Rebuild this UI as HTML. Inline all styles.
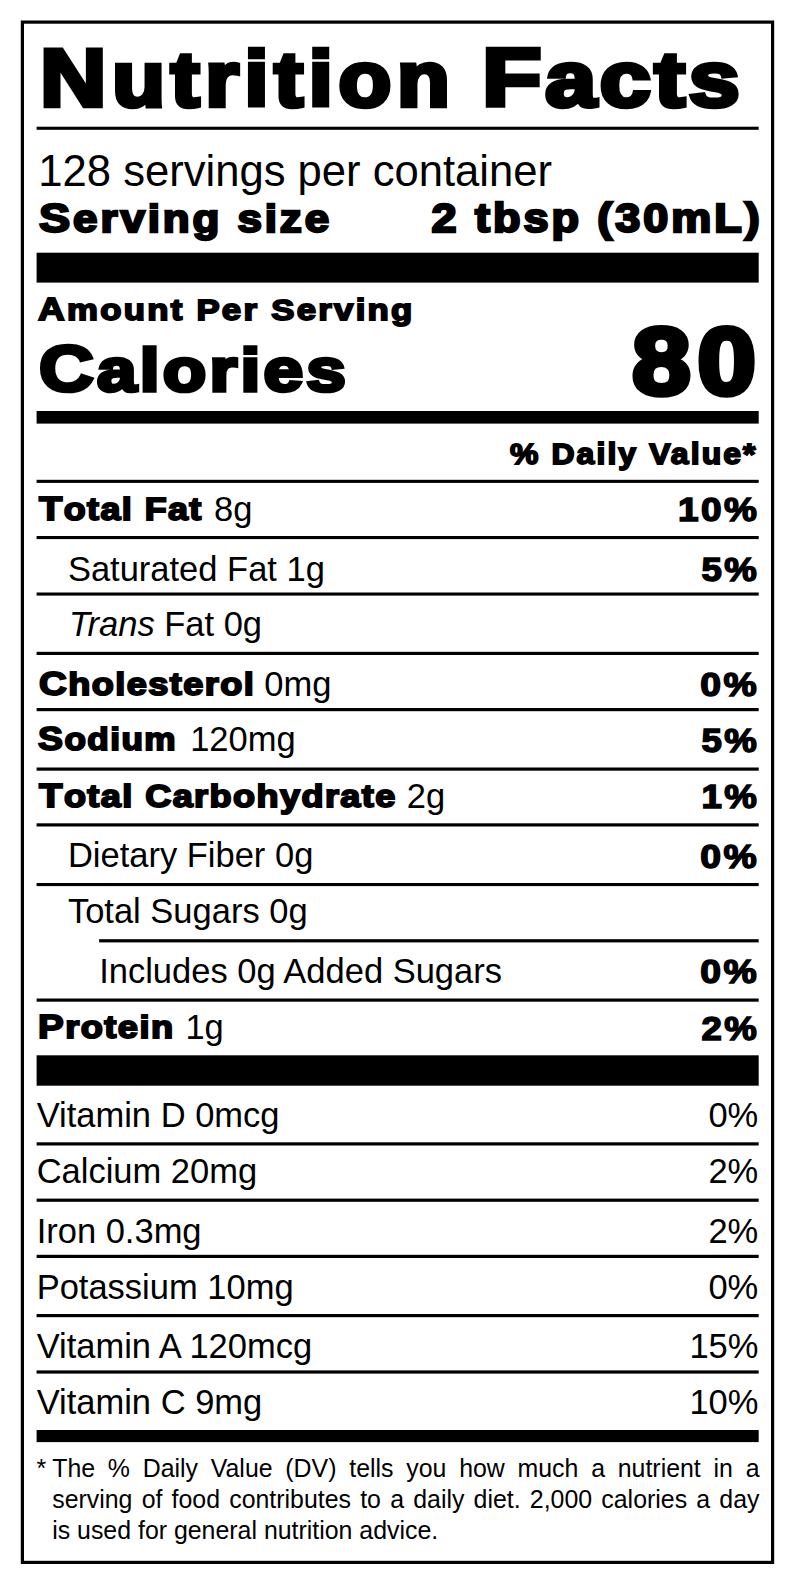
<!DOCTYPE html><html lang="en"><head><meta charset="utf-8"><title>Nutrition Facts</title><style>

html,body{margin:0;padding:0;background:#fff;}
body{width:796px;height:1585px;position:relative;overflow:hidden;font-family:"Liberation Sans",sans-serif;color:#000;}
.lines{position:absolute;left:0;top:0;display:block;}
.t{position:absolute;white-space:nowrap;line-height:1;margin:0;}
.l{transform-origin:0 0;}
.r{transform-origin:100% 0;}
.h{font-weight:bold;-webkit-text-stroke:0.06em #000;letter-spacing:0.066em;}
.n{font-weight:normal;}
.fl::first-letter{font-size:1.065em;}
.ttl{margin:0;padding:0;font-size:inherit;font-weight:inherit;line-height:0;height:0;}
.fn{position:absolute;font-size:24.9px;line-height:1;white-space:nowrap;}
.fj{text-align:justify;text-align-last:justify;}

</style></head><body>
<main>
<svg class="lines" width="796" height="1585" viewBox="0 0 796 1585" aria-hidden="true">
<rect x="22.40" y="22.10" width="750.20" height="1540.30" fill="none" stroke="#000" stroke-width="3.2"/>
<rect x="36.6" y="126.7" width="722.10" height="3.10" fill="#000"/>
<rect x="36.6" y="252.7" width="722.10" height="29.90" fill="#000"/>
<rect x="36.6" y="411.0" width="722.10" height="12.60" fill="#000"/>
<rect x="36.6" y="479.8" width="722.10" height="3.10" fill="#000"/>
<rect x="36.6" y="536.0" width="722.10" height="3.10" fill="#000"/>
<rect x="36.6" y="592.5" width="722.10" height="3.10" fill="#000"/>
<rect x="36.6" y="651.8" width="722.10" height="3.20" fill="#000"/>
<rect x="36.6" y="708.0" width="722.10" height="3.20" fill="#000"/>
<rect x="36.6" y="767.5" width="722.10" height="3.20" fill="#000"/>
<rect x="36.6" y="823.3" width="722.10" height="3.20" fill="#000"/>
<rect x="36.6" y="883.0" width="722.10" height="3.10" fill="#000"/>
<rect x="99.1" y="939.2" width="659.60" height="3.20" fill="#000"/>
<rect x="36.6" y="998.5" width="722.10" height="3.20" fill="#000"/>
<rect x="36.6" y="1055.3" width="722.10" height="30.40" fill="#000"/>
<rect x="36.6" y="1142.3" width="722.10" height="3.20" fill="#000"/>
<rect x="36.6" y="1198.6" width="722.10" height="3.20" fill="#000"/>
<rect x="36.6" y="1254.8" width="722.10" height="3.20" fill="#000"/>
<rect x="36.6" y="1314.0" width="722.10" height="3.20" fill="#000"/>
<rect x="36.6" y="1370.4" width="722.10" height="3.20" fill="#000"/>
<rect x="36.6" y="1430.0" width="722.10" height="12.10" fill="#000"/>
</svg>
<h1 class="ttl"><span class="t l h fl" style="left:39.95px;top:36.38px;font-size:77.4px;transform:scaleX(1.1166);">Nutrition</span>
<span class="t l h fl" style="left:482.05px;top:36.38px;font-size:77.4px;transform:scaleX(1.1836);letter-spacing:0.04em;">Facts</span></h1>
<div class="t l n" style="left:38.30px;top:150.30px;font-size:43.6px;">128 servings per container</div>
<div class="t l h fl" style="left:38.70px;top:197.94px;font-size:38.7px;transform:scaleX(1.1353);">Serving size</div>
<div class="t r h" style="right:32.82px;top:197.90px;font-size:40.05px;transform:scaleX(1.1237);">2 tbsp (30mL)</div>
<div class="t l h fl" style="left:37.80px;top:293.81px;font-size:29.79px;transform:scaleX(1.1656);">Amount Per Serving</div>
<div class="t l h fl" style="left:39.44px;top:335.95px;font-size:61.65px;transform:scaleX(1.1553);letter-spacing:0.045em;">Calories</div>
<div class="t r h" style="right:33.05px;top:313.56px;font-size:94.68px;transform:scaleX(1.1081);">80</div>
<div class="t r h" style="right:38.82px;top:439.02px;font-size:29.34px;transform:scaleX(1.0881);">% Daily Value*</div>
<div class="t l h fl" style="left:39.35px;top:491.97px;font-size:31.05px;transform:scaleX(1.1549);letter-spacing:0.04em;">Total Fat</div>
<div class="t l n" style="left:214.00px;top:491.90px;font-size:34.5px;">8g</div>
<div class="t r h" style="right:37.15px;top:493.39px;font-size:33.75px;transform:scaleX(1.0958);-webkit-text-stroke-width:0.045em;">10%</div>
<div class="t l n" style="left:67.90px;top:551.70px;font-size:34.5px;">Saturated Fat 1g</div>
<div class="t r h" style="right:37.18px;top:553.19px;font-size:33.75px;transform:scaleX(1.0843);-webkit-text-stroke-width:0.045em;">5%</div>
<div class="t l n" style="left:69.00px;top:607.40px;font-size:34.5px;"><i>Trans</i> Fat 0g</div>
<div class="t l h fl" style="left:38.50px;top:666.57px;font-size:31.05px;transform:scaleX(1.1634);letter-spacing:0.04em;">Cholesterol</div>
<div class="t l n" style="left:264.30px;top:666.50px;font-size:34.5px;">0mg</div>
<div class="t r h" style="right:37.13px;top:667.99px;font-size:33.75px;transform:scaleX(1.1060);-webkit-text-stroke-width:0.045em;">0%</div>
<div class="t l h fl" style="left:38.20px;top:722.47px;font-size:31.05px;transform:scaleX(1.1333);letter-spacing:0.04em;">Sodium</div>
<div class="t l n" style="left:190.20px;top:722.40px;font-size:34.5px;">120mg</div>
<div class="t r h" style="right:37.18px;top:723.89px;font-size:33.75px;transform:scaleX(1.0843);-webkit-text-stroke-width:0.045em;">5%</div>
<div class="t l h fl" style="left:39.36px;top:778.77px;font-size:31.05px;transform:scaleX(1.1607);letter-spacing:0.04em;">Total Carbohydrate</div>
<div class="t l n" style="left:406.80px;top:778.70px;font-size:34.5px;">2g</div>
<div class="t r h" style="right:37.17px;top:780.19px;font-size:33.75px;transform:scaleX(1.0860);-webkit-text-stroke-width:0.045em;">1%</div>
<div class="t l n" style="left:67.90px;top:838.40px;font-size:34.5px;">Dietary Fiber 0g</div>
<div class="t r h" style="right:37.13px;top:839.89px;font-size:33.75px;transform:scaleX(1.1060);-webkit-text-stroke-width:0.045em;">0%</div>
<div class="t l n" style="left:67.90px;top:894.20px;font-size:34.5px;">Total Sugars 0g</div>
<div class="t l n" style="left:99.20px;top:953.90px;font-size:34.5px;">Includes 0g Added Sugars</div>
<div class="t r h" style="right:37.13px;top:955.39px;font-size:33.75px;transform:scaleX(1.1060);-webkit-text-stroke-width:0.045em;">0%</div>
<div class="t l h fl" style="left:37.83px;top:1010.47px;font-size:31.05px;transform:scaleX(1.1667);letter-spacing:0.04em;">Protein</div>
<div class="t l n" style="left:185.40px;top:1010.40px;font-size:34.5px;">1g</div>
<div class="t r h" style="right:37.18px;top:1011.89px;font-size:33.75px;transform:scaleX(1.0843);-webkit-text-stroke-width:0.045em;">2%</div>
<div class="t l n" style="left:36.65px;top:1097.80px;font-size:34.5px;">Vitamin D 0mcg</div>
<div class="t r n" style="right:37.73px;top:1097.80px;font-size:34.5px;">0%</div>
<div class="t l n" style="left:36.65px;top:1153.80px;font-size:34.5px;">Calcium 20mg</div>
<div class="t r n" style="right:37.73px;top:1153.80px;font-size:34.5px;">2%</div>
<div class="t l n" style="left:36.65px;top:1213.70px;font-size:34.5px;">Iron 0.3mg</div>
<div class="t r n" style="right:37.73px;top:1213.70px;font-size:34.5px;">2%</div>
<div class="t l n" style="left:36.65px;top:1269.60px;font-size:34.5px;">Potassium 10mg</div>
<div class="t r n" style="right:37.73px;top:1269.60px;font-size:34.5px;">0%</div>
<div class="t l n" style="left:36.65px;top:1328.70px;font-size:34.5px;">Vitamin A 120mcg</div>
<div class="t r n" style="right:37.54px;top:1328.70px;font-size:34.5px;">15%</div>
<div class="t l n" style="left:36.65px;top:1385.00px;font-size:34.5px;">Vitamin C 9mg</div>
<div class="t r n" style="right:37.54px;top:1385.00px;font-size:34.5px;">10%</div>
<div class="fn" style="left:36.5px;top:1455.92px">*</div>
<div class="fn fj" style="left:52.2px;top:1455.92px;width:707.30px">The % Daily Value (DV) tells you how much a nutrient in a</div>
<div class="fn fj" style="left:52.2px;top:1486.62px;width:707.30px">serving of food contributes to a daily diet. 2,000 calories a day</div>
<div class="fn" style="left:52.2px;top:1517.92px">is used for general nutrition advice.</div>
</main>
</body></html>
